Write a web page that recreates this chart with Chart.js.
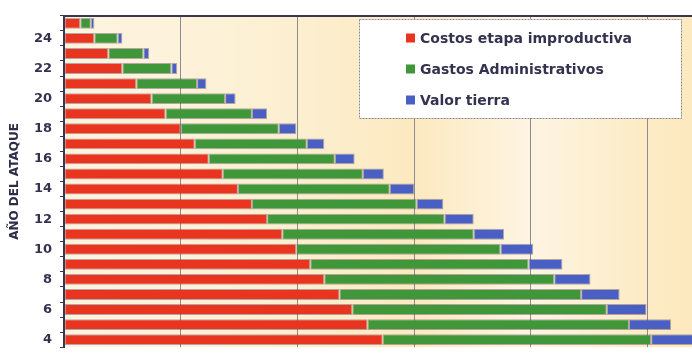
<!DOCTYPE html>
<html>
<head>
<meta charset="utf-8">
<script src="https://cdn.jsdelivr.net/npm/chart.js@4.4.1/dist/chart.umd.min.js"></script>
<style>
  html, body { margin: 0; padding: 0; background: #fff; overflow: hidden; }
  #wrap { position: relative; width: 692px; height: 361px; overflow: hidden; }
</style>
</head>
<body>
<div id="wrap"><canvas id="chart" width="692" height="363"></canvas></div>
<script>
// Years of attack, top to bottom
const years = ['25', '24', '23', '22', '21', '20', '19', '18', '17', '16', '15',
               '14', '13', '12', '11', '10', '9', '8', '7', '6', '5', '4'];

// Series values (one gridline = 100)
const costos = [14, 26, 38, 50, 62, 75, 87, 100, 112, 124, 136,
                149, 161, 174, 187, 199, 211, 223, 236, 247, 260, 273];
const gastos = [9, 20, 30, 42, 52, 63, 74, 84, 96, 108, 120,
                130, 141, 152, 164, 175, 187, 197, 207, 218, 224, 230];
const tierra = [3, 4, 5, 5, 8, 9, 13, 15, 15, 17, 18,
                21, 23, 25, 26, 28, 29, 31, 33, 34, 36, 38];

const seriesNames = ['Costos etapa improductiva', 'Gastos Administrativos', 'Valor tierra'];
const seriesColors = ['#e9341f', '#3f9739', '#4a5fc3'];

const axisTitle = 'AÑO DEL ATAQUE';
const gridStep = 100;
const xMax = 538;

const textColor = '#34324f';
const fontFamily = '"DejaVu Sans", Verdana, sans-serif';

// Plot area background: cream bands with a soft yellow tint
const plotBackground = {
    id: 'plotBackground',
    beforeDraw(chart) {
        const { ctx, chartArea } = chart;
        const x = chart.scales.x;
        const g = ctx.createLinearGradient(chartArea.left, 0, chartArea.right, 0);
        const stops = [
            [0, '#fdf4e0'], [100, '#fdf2da'], [200, '#fcefd0'], [300, '#fce9c0'],
            [360, '#fdf0d4'], [400, '#fdf4e2'], [500, '#fcebc4'], [xMax, '#fce9bf']
        ];
        stops.forEach(([v, c]) => {
            const f = (x.getPixelForValue(v) - chartArea.left) / (chartArea.right - chartArea.left);
            g.addColorStop(Math.min(1, Math.max(0, f)), c);
        });
        ctx.save();
        ctx.fillStyle = g;
        ctx.fillRect(chartArea.left, chartArea.top, chartArea.right - chartArea.left, chartArea.bottom - chartArea.top);
        ctx.restore();
    }
};

// Legend drawn as a white box inside the plot area
const legendBox = {
    id: 'legendBox',
    afterDraw(chart) {
        const ctx = chart.ctx;
        const bx = 359, by = 19, bw = 322, bh = 99;
        ctx.save();
        ctx.fillStyle = '#ffffff';
        ctx.fillRect(bx, by, bw, bh);
        ctx.strokeStyle = '#8a8a96';
        ctx.lineWidth = 1;
        ctx.setLineDash([2, 1]);
        ctx.strokeRect(bx + 0.5, by + 0.5, bw, bh);
        ctx.setLineDash([]);
        ctx.font = 'bold 14px ' + fontFamily;
        ctx.textBaseline = 'middle';
        chart.data.datasets.forEach((ds, i) => {
            const cy = 38 + i * 31;
            ctx.fillStyle = ds.backgroundColor;
            ctx.fillRect(406, cy - 4.5, 9, 9);
            ctx.fillStyle = textColor;
            ctx.fillText(ds.label, 420, cy + 1);
        });
        ctx.restore();
    }
};

const datasets = [costos, gastos, tierra].map((values, i) => ({
    label: seriesNames[i],
    data: values,
    backgroundColor: seriesColors[i],
    borderColor: 'rgba(70, 55, 80, 0.4)',
    borderWidth: 1,
    borderSkipped: false,
    categoryPercentage: 1,
    barPercentage: 0.72
}));

new Chart(document.getElementById('chart'), {
    type: 'bar',
    data: { labels: years, datasets: datasets },
    options: {
        indexAxis: 'y',
        responsive: false,
        animation: false,
        layout: { padding: { top: 15, left: 0, right: 0, bottom: 0 } },
        plugins: {
            legend: { display: false },
            tooltip: { enabled: false }
        },
        scales: {
            x: {
                type: 'linear',
                position: 'top',
                stacked: true,
                min: 0,
                max: xMax,
                ticks: { display: false, stepSize: gridStep },
                grid: {
                    drawTicks: false,
                    lineWidth: 1,
                    color: ctx => (ctx.tick && ctx.tick.value % gridStep === 0 && ctx.tick.value > 0) ? '#8e8a90' : 'rgba(0,0,0,0)'
                },
                border: { display: true, color: '#3a3652', width: 2 },
                afterFit: axis => { axis.height = 0; }
            },
            y: {
                type: 'category',
                stacked: true,
                offset: true,
                grid: {
                    display: true,
                    offset: true,
                    drawOnChartArea: false,
                    tickLength: 4,
                    color: '#3a3652'
                },
                border: { display: true, color: '#3a3652', width: 2 },
                ticks: {
                    autoSkip: false,
                    padding: 8,
                    color: textColor,
                    font: { family: fontFamily, weight: 'bold', size: 13 },
                    callback: function (value) {
                        const label = this.getLabelForValue(value);
                        return Number(label) % 2 === 0 ? label : '';
                    }
                },
                title: {
                    display: true,
                    text: axisTitle,
                    color: '#2e2c48',
                    font: { family: fontFamily, weight: 'bold', size: 12 },
                    padding: { top: 8, bottom: 0 }
                },
                afterFit: axis => { axis.width = 64; }
            }
        }
    },
    plugins: [plotBackground, legendBox]
});
</script>
</body>
</html>
